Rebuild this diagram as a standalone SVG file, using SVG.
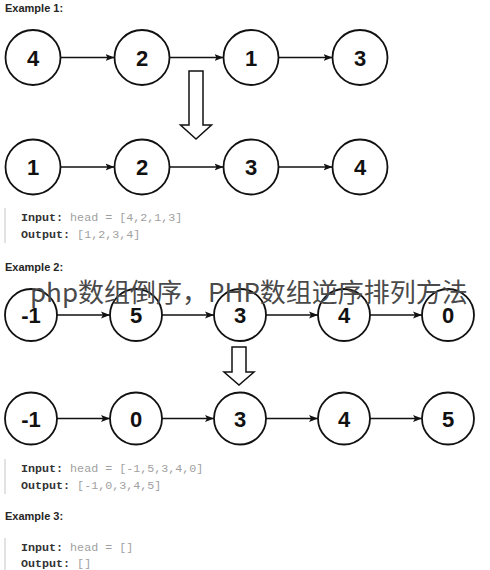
<svg xmlns="http://www.w3.org/2000/svg" width="490" height="570" viewBox="0 0 490 570">
<style>
.n circle{fill:#fff;stroke:#111;stroke-width:1.8}
.n text{font-family:"Liberation Sans",Arial,sans-serif;font-weight:bold;font-size:22px;fill:#111;text-anchor:middle}
.c line{stroke:#111;stroke-width:1.3}
.big{fill:#fff;stroke:#111;stroke-width:1.5}
.h{font-family:"Liberation Sans",Arial,sans-serif;font-weight:bold;font-size:11px;fill:#262626}
.code{font-family:"Liberation Mono","DejaVu Sans Mono",monospace;font-size:11.7px;fill:#a0a0a0}
.code .k{font-weight:bold;fill:#333}
.bar{fill:#e2e2e2}
.wm{font-family:"Noto Sans CJK SC","Noto Sans",sans-serif;font-size:26px;fill:#4a4a4a}
</style>
<defs>
<marker id="ah" markerUnits="userSpaceOnUse" markerWidth="10" markerHeight="8" refX="9" refY="4" orient="auto">
<path d="M0,0.5 L9,4 L0,7.5 L2,4 Z" fill="#111"/>
</marker>
</defs>
<rect width="490" height="570" fill="#fff"/>

<text class="h" x="5" y="12">Example 1:</text>

<g id="connectors" class="c">
<line x1="60.5" y1="57.5" x2="114.5" y2="57.5" marker-end="url(#ah)"/>
<line x1="169.5" y1="57.5" x2="223.5" y2="57.5" marker-end="url(#ah)"/>
<line x1="278.5" y1="57.5" x2="332.5" y2="57.5" marker-end="url(#ah)"/>
<line x1="60.5" y1="167" x2="114.5" y2="167" marker-end="url(#ah)"/>
<line x1="169.5" y1="167" x2="223.5" y2="167" marker-end="url(#ah)"/>
<line x1="278.5" y1="167" x2="332.5" y2="167" marker-end="url(#ah)"/>
<line x1="57" y1="315" x2="110" y2="315" marker-end="url(#ah)"/>
<line x1="162" y1="315" x2="214" y2="315" marker-end="url(#ah)"/>
<line x1="266" y1="315" x2="318" y2="315" marker-end="url(#ah)"/>
<line x1="370" y1="315" x2="422" y2="315" marker-end="url(#ah)"/>
<line x1="57" y1="418.5" x2="110" y2="418.5" marker-end="url(#ah)"/>
<line x1="162" y1="418.5" x2="214" y2="418.5" marker-end="url(#ah)"/>
<line x1="266" y1="418.5" x2="318" y2="418.5" marker-end="url(#ah)"/>
<line x1="370" y1="418.5" x2="422" y2="418.5" marker-end="url(#ah)"/>
<polygon class="big" points="189,71 203,71 203,125 211.5,125 196,139 180.5,125 189,125"/>
<polygon class="big" points="232,347 246,347 246,372 254,372 239,385 224,372 232,372"/>
</g>

<g id="e1a4" class="n"><circle cx="33" cy="57.5" r="27.5"/><text x="33" y="65.5">4</text></g>
<g id="e1a2" class="n"><circle cx="142" cy="57.5" r="27.5"/><text x="142" y="65.5">2</text></g>
<g id="e1a1" class="n"><circle cx="251" cy="57.5" r="27.5"/><text x="251" y="65.5">1</text></g>
<g id="e1a3" class="n"><circle cx="360" cy="57.5" r="27.5"/><text x="360" y="65.5">3</text></g>

<g id="e1b1" class="n"><circle cx="33" cy="167" r="27.5"/><text x="33" y="175">1</text></g>
<g id="e1b2" class="n"><circle cx="142" cy="167" r="27.5"/><text x="142" y="175">2</text></g>
<g id="e1b3" class="n"><circle cx="251" cy="167" r="27.5"/><text x="251" y="175">3</text></g>
<g id="e1b4" class="n"><circle cx="360" cy="167" r="27.5"/><text x="360" y="175">4</text></g>

<rect class="bar" x="4" y="208" width="2" height="35"/>
<text class="code" x="21" y="221"><tspan class="k">Input:</tspan> head = [4,2,1,3]</text>
<text class="code" x="21" y="238"><tspan class="k">Output:</tspan> [1,2,3,4]</text>

<text class="h" x="5" y="271">Example 2:</text>

<g id="e2a1" class="n"><circle cx="31" cy="315" r="26"/><text x="31" y="323">-1</text></g>
<g id="e2a5" class="n"><circle cx="136" cy="315" r="26"/><text x="136" y="323">5</text></g>
<g id="e2a3" class="n"><circle cx="240" cy="315" r="26"/><text x="240" y="323">3</text></g>
<g id="e2a4" class="n"><circle cx="344" cy="315" r="26"/><text x="344" y="323">4</text></g>
<g id="e2a0" class="n"><circle cx="448" cy="315" r="26"/><text x="448" y="323">0</text></g>

<g id="e2b1" class="n"><circle cx="31" cy="418.5" r="26"/><text x="31" y="426.5">-1</text></g>
<g id="e2b0" class="n"><circle cx="136" cy="418.5" r="26"/><text x="136" y="426.5">0</text></g>
<g id="e2b3" class="n"><circle cx="240" cy="418.5" r="26"/><text x="240" y="426.5">3</text></g>
<g id="e2b4" class="n"><circle cx="344" cy="418.5" r="26"/><text x="344" y="426.5">4</text></g>
<g id="e2b5" class="n"><circle cx="448" cy="418.5" r="26"/><text x="448" y="426.5">5</text></g>

<rect class="bar" x="4" y="459" width="2" height="35"/>
<text class="code" x="21" y="472"><tspan class="k">Input:</tspan> head = [-1,5,3,4,0]</text>
<text class="code" x="21" y="489"><tspan class="k">Output:</tspan> [-1,0,3,4,5]</text>

<text class="h" x="5" y="520">Example 3:</text>
<rect class="bar" x="4" y="538" width="2" height="32"/>
<text class="code" x="21" y="551"><tspan class="k">Input:</tspan> head = []</text>
<text class="code" x="21" y="566.5"><tspan class="k">Output:</tspan> []</text>

<text class="wm" x="30" y="302">php数组倒序，PHP数组逆序排列方法</text>
</svg>
